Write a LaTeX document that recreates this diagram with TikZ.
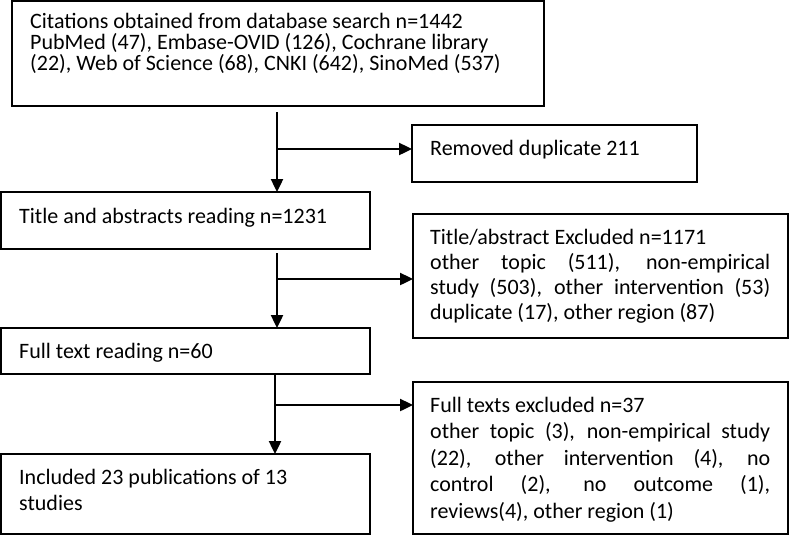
\documentclass[tikz,border=0pt]{standalone}
\usepackage{fontspec}
\setmainfont{Carlito}
\usetikzlibrary{arrows.meta,calc}
\newcommand{\jline}[1]{\makebox[\linewidth][s]{#1}\par}
\newcommand{\pline}[1]{\mbox{#1}\par}
\newcommand{\boxtext}[3]{\parbox[t]{#1}{\fontsize{22}{#2}\selectfont\lineskiplimit=-30pt\relax #3}}
\begin{document}
\begin{tikzpicture}[x=1pt,y=-1pt,
  box/.style={draw=black, line width=1.6pt, fill=white, inner sep=0pt, outer sep=0pt, anchor=north west},
  txt/.style={inner sep=0pt, anchor=base west},
  ln/.style={draw=black, line width=2.4pt},
  arr/.style={ln, -{Triangle[length=13pt,width=12pt]}}]
\fill[white] (0,0) rectangle (789,536);
\useasboundingbox (0,0) rectangle (789,536);
% boxes
\node[box, minimum width=532pt, minimum height=105pt] (b1) at (12,1) {};
\node[box, minimum width=285pt, minimum height=57pt] (rem) at (412,125) {};
\node[box, minimum width=369pt, minimum height=57pt] (b2) at (1,192) {};
\node[box, minimum width=375pt, minimum height=124pt] (ex1) at (413,214) {};
\node[box, minimum width=369pt, minimum height=46pt] (b3) at (1,328) {};
\node[box, minimum width=375pt, minimum height=152pt] (ex2) at (413,382) {};
\node[box, minimum width=369pt, minimum height=80pt] (b4) at (1,454) {};
% texts
\node[txt] (t1) at (30,28) {\boxtext{500pt}{21}{%
\pline{Citations obtained from database search n=1442}
\pline{PubMed (47), Embase-OVID (126), Cochrane library}
\pline{(22), Web of Science (68), CNKI (642), SinoMed (537)}}};
\node[txt] (trem) at (430,155) {\boxtext{260pt}{25}{\pline{Removed duplicate 211}}};
\node[txt] (t2) at (19,223) {\boxtext{334pt}{25}{\pline{Title and abstracts reading n=1231}}};
\node[txt] (tex1) at (430,244) {\boxtext{340pt}{25}{%
\pline{Title/abstract Excluded n=1171}
\jline{other topic (511), non-empirical}
\jline{study (503), other intervention (53)}
\pline{duplicate (17), other region (87)}}};
\node[txt] (t3) at (19,358) {\boxtext{334pt}{25}{\pline{Full text reading n=60}}};
\node[txt] (tex2) at (430,412) {\boxtext{340pt}{26.5}{%
\pline{Full texts excluded n=37}
\jline{other topic (3), non-empirical study}
\jline{(22), other intervention (4), no}
\jline{control (2), no outcome (1),}
\pline{reviews(4), other region (1)}}};
\node[txt] (t4) at (19,484) {\boxtext{334pt}{26}{%
\pline{Included 23 publications of 13}
\pline{studies}}};
% connectors
\coordinate (s1) at (277,112);
\coordinate (j1) at (277,149);
\coordinate (s2) at (277,253);
\coordinate (j2) at (277,279);
\coordinate (s3) at (275,374);
\coordinate (j3) at (275,405);
\draw[arr] (s1) -- (s1 |- b2.north);
\draw[arr] (j1) -- (j1 -| rem.west);
\draw[arr] (s2) -- (s2 |- b3.north);
\draw[arr] (j2) -- (j2 -| ex1.west);
\draw[arr] (s3) -- (s3 |- b4.north);
\draw[arr] (j3) -- (j3 -| ex2.west);
\end{tikzpicture}
\end{document}
